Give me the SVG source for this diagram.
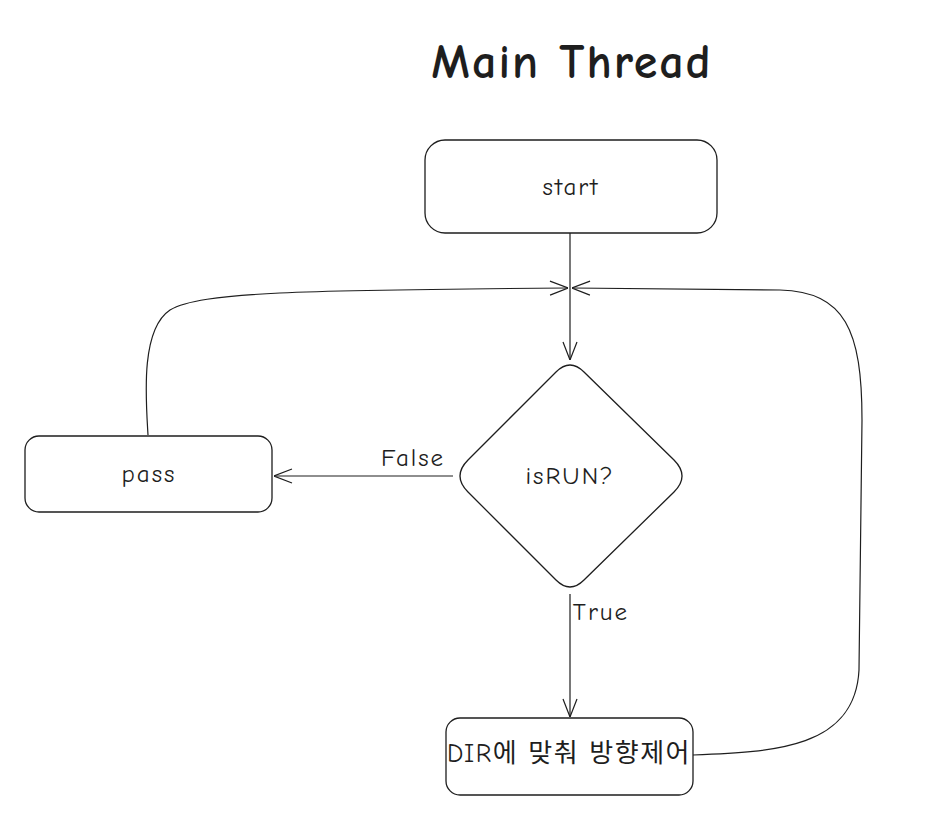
<svg xmlns="http://www.w3.org/2000/svg" width="930" height="814" viewBox="0 0 930 814">
<style>
.box{fill:#fff;stroke:#1e1e1e;stroke-width:1.3}
.lbl{font-family:"Comic Neue","Open Sans","Noto Sans CJK KR",sans-serif;fill:#1e1e1e;text-anchor:middle;dominant-baseline:central;font-size:25px;letter-spacing:2px}
.con{fill:none;stroke:#1e1e1e;stroke-width:1.2}
</style>
<defs>
<marker id="arr" viewBox="0 0 20 20" refX="20" refY="10" markerWidth="20" markerHeight="20" markerUnits="userSpaceOnUse" orient="auto">
<path d="M2,3 L20,10 L2,17" fill="none" stroke="#1e1e1e" stroke-width="1.2"/>
</marker>
</defs>
<rect width="930" height="814" fill="#fff"/>
<text class="lbl" x="572" y="62" style="font-size:48px;font-weight:bold;letter-spacing:2px">Main Thread</text>
<g id="start"><rect class="box" x="425" y="140" width="292" height="93" rx="20"/><text class="lbl" x="571" y="186">start</text></g>
<g id="isrun"><path class="box" d="M556,372 Q570,358 584,372 L674,460 Q690,476 674,492 L584,580 Q570,594 556,580 L468,492 Q452,476 468,460 Z"/><text class="lbl" x="570" y="475">isRUN?</text></g>
<g id="pass"><rect class="box" x="25" y="436" width="247" height="76" rx="14"/><text class="lbl" x="149" y="473">pass</text></g>
<g id="dir"><rect class="box" x="446" y="718" width="247" height="77" rx="14"/><text class="lbl" x="569" y="754" style="font-size:26px;letter-spacing:1.5px">DIR에 맞춰 방향제어</text></g>
<g id="connectors">
<path class="con" d="M570,233 L570,360" marker-end="url(#arr)"/>
<path class="con" d="M453,476 L274,476" marker-end="url(#arr)"/>
<path class="con" d="M570,594 L570,717" marker-end="url(#arr)"/>
<path class="con" d="M148,435 C146,400 140,330 170,310 C200,292 300,290 568,288" marker-end="url(#arr)"/>
<path class="con" d="M693,755 C775,752 855,748 859,670 L862,420 C862,330 845,292 780,290 L572,288" marker-end="url(#arr)"/>
<text class="lbl" x="413" y="457">False</text>
<text class="lbl" x="601" y="611">True</text>
</g>
</svg>
